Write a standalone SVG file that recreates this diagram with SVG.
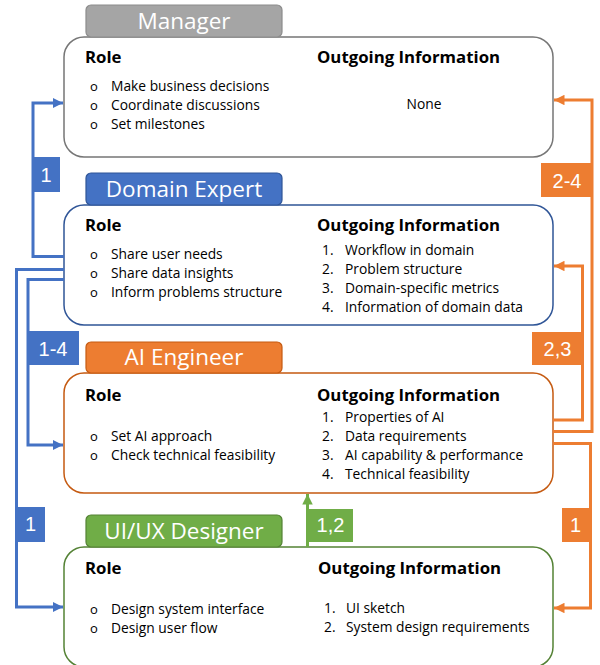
<svg xmlns="http://www.w3.org/2000/svg" width="600" height="665" viewBox="0 0 600 665">
  <defs>
    <style>
      .box { fill: #fff; stroke-width: 1.5; }
      .tab { stroke-width: 1.2; }
      .tabtxt { font-family: "Open Sans", "Liberation Sans", sans-serif; font-size: 22.5px; fill: #fff; text-anchor: middle; }
      .head { font-family: "Open Sans", "Liberation Sans", sans-serif; font-size: 16.8px; font-weight: bold; fill: #000; }
      .txt { font-family: "Open Sans", "Liberation Sans", sans-serif; font-size: 13.8px; fill: #000; }
      .bul { font-family: "Open Sans", "Liberation Sans", sans-serif; font-size: 13px; fill: #000; }
      .wire { fill: none; stroke-width: 3; }
      .blue { stroke: #4472c4; }
      .orange { stroke: #ed7d31; }
      .green { stroke: #70ad47; }
      .lbl { font-family: "Liberation Sans", Arial, sans-serif; font-size: 20px; fill: #fff; text-anchor: middle; }
    </style>
    <marker id="ahBlue" viewBox="0 0 10 10" refX="10" refY="5" markerWidth="3.5" markerHeight="3.5" orient="auto" markerUnits="strokeWidth">
      <path d="M0,0 L10,5 L0,10 z" fill="#4472c4"/>
    </marker>
    <marker id="ahOrange" viewBox="0 0 10 10" refX="10" refY="5" markerWidth="3.5" markerHeight="3.5" orient="auto" markerUnits="strokeWidth">
      <path d="M0,0 L10,5 L0,10 z" fill="#ed7d31"/>
    </marker>
    <marker id="ahGreen" viewBox="0 0 10 10" refX="10" refY="5" markerWidth="3.5" markerHeight="3.5" orient="auto" markerUnits="strokeWidth">
      <path d="M0,0 L10,5 L0,10 z" fill="#70ad47"/>
    </marker>
  </defs>

  <rect width="600" height="665" fill="#fff"/>

  <!-- Manager -->
  <g id="manager">
    <rect class="box" x="64" y="37" width="489" height="120" rx="20" stroke="#767676"/>
    <rect class="tab" x="86" y="5" width="196" height="32" rx="5" fill="#a5a5a5" stroke="#8c8c8c"/>
    <text class="tabtxt" x="184" y="29">Manager</text>
    <text class="head" x="85" y="63">Role</text>
    <text class="head" x="317" y="63">Outgoing Information</text>
    <text class="bul" x="90" y="91">o</text><text class="txt" x="111" y="91">Make business decisions</text>
    <text class="bul" x="90" y="110">o</text><text class="txt" x="111" y="110">Coordinate discussions</text>
    <text class="bul" x="90" y="129">o</text><text class="txt" x="111" y="129">Set milestones</text>
    <text class="txt" x="424" y="109" text-anchor="middle">None</text>
  </g>

  <!-- Domain Expert -->
  <g id="domain-expert">
    <rect class="box" x="64" y="205" width="489" height="120" rx="20" stroke="#2f5597"/>
    <rect class="tab" x="86" y="173" width="196" height="32" rx="5" fill="#4472c4" stroke="#2f5597"/>
    <text class="tabtxt" x="184" y="197">Domain Expert</text>
    <text class="head" x="85" y="231">Role</text>
    <text class="head" x="317" y="231">Outgoing Information</text>
    <text class="bul" x="90" y="259">o</text><text class="txt" x="111" y="259">Share user needs</text>
    <text class="bul" x="90" y="278">o</text><text class="txt" x="111" y="278">Share data insights</text>
    <text class="bul" x="90" y="297">o</text><text class="txt" x="111" y="297">Inform problems structure</text>
    <text class="txt" x="322" y="255">1.</text><text class="txt" x="345" y="255">Workflow in domain</text>
    <text class="txt" x="322" y="274">2.</text><text class="txt" x="345" y="274">Problem structure</text>
    <text class="txt" x="322" y="293">3.</text><text class="txt" x="345" y="293">Domain-specific metrics</text>
    <text class="txt" x="322" y="312">4.</text><text class="txt" x="345" y="312">Information of domain data</text>
  </g>

  <!-- AI Engineer -->
  <g id="ai-engineer">
    <rect class="box" x="64" y="373" width="489" height="120" rx="20" stroke="#c55a11"/>
    <rect class="tab" x="86" y="342" width="196" height="31" rx="5" fill="#ed7d31" stroke="#c55a11"/>
    <text class="tabtxt" x="184" y="365">AI Engineer</text>
    <text class="head" x="85" y="401">Role</text>
    <text class="head" x="317" y="401">Outgoing Information</text>
    <text class="bul" x="90" y="441">o</text><text class="txt" x="111" y="441">Set AI approach</text>
    <text class="bul" x="90" y="460">o</text><text class="txt" x="111" y="460">Check technical feasibility</text>
    <text class="txt" x="322" y="422">1.</text><text class="txt" x="345" y="422">Properties of AI</text>
    <text class="txt" x="322" y="441">2.</text><text class="txt" x="345" y="441">Data requirements</text>
    <text class="txt" x="322" y="460">3.</text><text class="txt" x="345" y="460">AI capability &amp; performance</text>
    <text class="txt" x="322" y="479">4.</text><text class="txt" x="345" y="479">Technical feasibility</text>
  </g>

  <!-- UI/UX Designer -->
  <g id="uiux-designer">
    <rect class="box" x="64" y="547" width="489" height="120" rx="20" stroke="#548235"/>
    <rect class="tab" x="86" y="515" width="196" height="32" rx="5" fill="#70ad47" stroke="#548235"/>
    <text class="tabtxt" x="184" y="539">UI/UX Designer</text>
    <text class="head" x="85" y="574">Role</text>
    <text class="head" x="318" y="574">Outgoing Information</text>
    <text class="bul" x="90" y="614">o</text><text class="txt" x="111" y="614">Design system interface</text>
    <text class="bul" x="90" y="633">o</text><text class="txt" x="111" y="633">Design user flow</text>
    <text class="txt" x="324" y="613">1.</text><text class="txt" x="346" y="613">UI sketch</text>
    <text class="txt" x="324" y="632">2.</text><text class="txt" x="346" y="632">System design requirements</text>
  </g>

  <!-- Connectors -->
  <g id="connectors">
    <!-- Domain Expert -> Manager -->
    <path class="wire blue" d="M64,256.5 H33 V103 H63" marker-end="url(#ahBlue)"/>
    <rect x="32" y="157" width="28" height="35" fill="#4472c4"/>
    <text class="lbl" x="46" y="182">1</text>

    <!-- Domain Expert -> UI/UX Designer -->
    <path class="wire blue" d="M64,269.5 H16.5 V607 H63" marker-end="url(#ahBlue)"/>
    <rect x="16" y="507" width="29" height="35" fill="#4472c4"/>
    <text class="lbl" x="30.5" y="531">1</text>

    <!-- Domain Expert -> AI Engineer -->
    <path class="wire blue" d="M64,279.5 H28 V445 H63" marker-end="url(#ahBlue)"/>
    <rect x="27" y="331" width="52" height="34" fill="#4472c4"/>
    <text class="lbl" x="53" y="356">1-4</text>

    <!-- AI Engineer -> Domain Expert -->
    <path class="wire orange" d="M553,420 H582.5 V266 H554" marker-end="url(#ahOrange)"/>
    <rect x="532" y="332" width="51" height="33" fill="#ed7d31"/>
    <text class="lbl" x="557.5" y="356">2,3</text>

    <!-- AI Engineer -> Manager -->
    <path class="wire orange" d="M553,431.5 H592 V100 H554" marker-end="url(#ahOrange)"/>
    <rect x="541" y="163" width="52" height="34" fill="#ed7d31"/>
    <text class="lbl" x="567" y="188">2-4</text>

    <!-- AI Engineer -> UI/UX Designer -->
    <path class="wire orange" d="M553,443.5 H590.5 V608 H554" marker-end="url(#ahOrange)"/>
    <rect x="562" y="508" width="27" height="34" fill="#ed7d31"/>
    <text class="lbl" x="575.5" y="532">1</text>

    <!-- UI/UX Designer -> AI Engineer -->
    <path class="wire green" d="M307.5,547 V494" marker-end="url(#ahGreen)"/>
    <rect x="308" y="509" width="45" height="33" fill="#70ad47"/>
    <text class="lbl" x="330.5" y="532">1,2</text>
  </g>
</svg>
